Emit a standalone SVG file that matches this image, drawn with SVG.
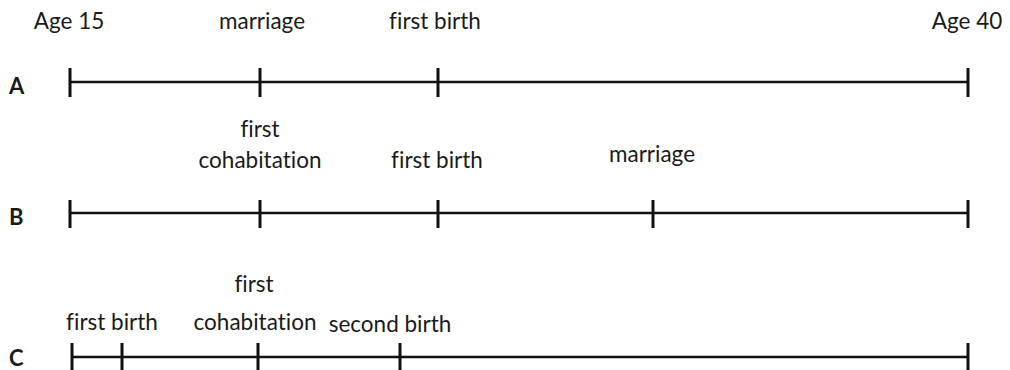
<svg xmlns="http://www.w3.org/2000/svg" width="1010" height="370" viewBox="0 0 1010 370">
  <style>
    .lbl { font-family: Lato, "Open Sans", "Liberation Sans", sans-serif; font-size: 22.5px; fill: #1a1a1a; text-anchor: middle; font-variant-ligatures: none; }
    .row { font-family: Lato, "Liberation Sans", sans-serif; font-size: 22px; font-weight: bold; fill: #1a1a1a; }
    .axis { stroke: #111; stroke-width: 2.6; fill: none; }
    .tick { stroke: #111; stroke-width: 3; fill: none; }
  </style>
  <rect width="1010" height="370" fill="#fff"/>

  <!-- Timeline A -->
  <g id="timeline-a">
    <text class="row" x="9" y="94">A</text>
    <line class="axis" x1="70" y1="82" x2="968" y2="82"/>
    <path class="tick" d="M70 68V97M260 68V97M438 68V97M968 68V97"/>
    <text class="lbl" x="69" y="29">Age 15</text>
    <text class="lbl" x="262" y="29">marriage</text>
    <text class="lbl" x="435" y="29">first birth</text>
    <text class="lbl" x="967" y="29">Age 40</text>
  </g>

  <!-- Timeline B -->
  <g id="timeline-b">
    <text class="row" x="9" y="225">B</text>
    <line class="axis" x1="70" y1="213" x2="968" y2="213"/>
    <path class="tick" d="M70 200V228M260 200V228M438 200V228M653 200V228M968 200V228"/>
    <text class="lbl" x="260" y="137">first</text>
    <text class="lbl" x="260" y="168">cohabitation</text>
    <text class="lbl" x="437" y="168">first birth</text>
    <text class="lbl" x="652" y="162">marriage</text>
  </g>

  <!-- Timeline C -->
  <g id="timeline-c">
    <text class="row" x="9" y="366">C</text>
    <line class="axis" x1="72" y1="357" x2="968" y2="357"/>
    <path class="tick" d="M72 343V372M122 343V372M258 343V372M400 343V372M968 343V372"/>
    <text class="lbl" x="254" y="292">first</text>
    <text class="lbl" x="255" y="330">cohabitation</text>
    <text class="lbl" x="112" y="330">first birth</text>
    <text class="lbl" x="390" y="332">second birth</text>
  </g>
</svg>
